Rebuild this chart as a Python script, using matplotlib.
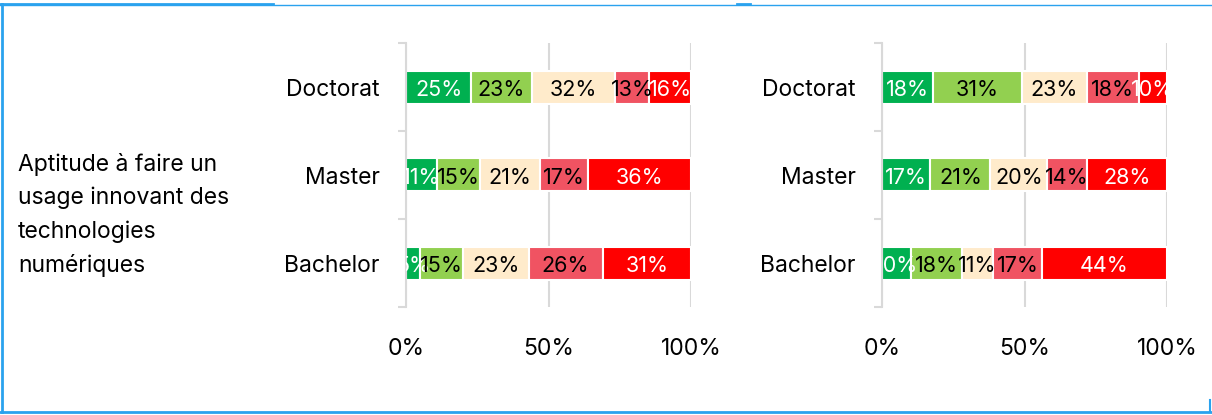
import numpy as np
import matplotlib.pyplot as plt
import matplotlib.transforms as mtransforms
from matplotlib.lines import Line2D

plt.rcParams['font.family'] = ['Inter', 'DejaVu Sans']

# Niveaux d'études (de bas en haut) et réponses pour chaque panneau
niveaux = ["Bachelor", "Master", "Doctorat"]
gauche = [
    [5, 15, 23, 26, 31],   # Bachelor
    [11, 15, 21, 17, 36],  # Master
    [25, 23, 32, 13, 16],  # Doctorat
]
droite = [
    [10, 18, 11, 17, 44],
    [17, 21, 20, 14, 28],
    [18, 31, 23, 18, 10],
]
couleurs = ["#00B050", "#92D050", "#FFEBCB", "#F05362", "#FF0000"]
couleurs_texte = ["white", "black", "black", "black", "white"]
ticks_x = [0, 50, 100]
titre = "Aptitude à faire un\nusage innovant des\ntechnologies\nnumériques"

W, H = 1212, 415
fig = plt.figure(figsize=(W / 100, H / 100), dpi=100)

GRIS = "#D9D9D9"
TAILLE = 16.5
TAILLE_BARRE = 15.5
# petit décalage vers le bas des pourcentages dans les barres
decale = mtransforms.ScaledTranslation(0, -3 / 100, fig.dpi_scale_trans)


def barres_empilees(ax, donnees):
    for i, ligne in enumerate(donnees):
        total = sum(ligne)
        parts = [100 * v / total for v in ligne]
        debuts = np.cumsum([0] + parts[:-1])
        ax.barh([i] * len(parts), parts, left=debuts, height=0.375,
                color=couleurs, edgecolor="white", linewidth=1.5, zorder=2)
    # textes par-dessus toutes les barres, coupés au bord du graphique
    for i, ligne in enumerate(donnees):
        total = sum(ligne)
        parts = [100 * v / total for v in ligne]
        debuts = np.cumsum([0] + parts[:-1])
        for v, p, d, c in zip(ligne, parts, debuts, couleurs_texte):
            ax.text(d + p / 2, i, f"{v}%", ha="center", va="center",
                    color=c, fontsize=TAILLE_BARRE, clip_on=True, zorder=3,
                    transform=ax.transData + decale)

    ax.set_xlim(0, 100)
    ax.set_ylim(-0.5, len(donnees) - 0.5)
    ax.set_xticks(ticks_x)
    ax.set_xticklabels([f"{t}%" for t in ticks_x], fontsize=TAILLE)
    ax.tick_params(axis="x", length=0, pad=22)
    ax.set_yticks(range(len(niveaux)))
    ax.set_yticklabels(niveaux, fontsize=TAILLE, va="center_baseline")
    ax.set_yticks(np.arange(-0.5, len(niveaux)), minor=True)
    ax.tick_params(axis="y", which="major", length=0, pad=19)
    ax.tick_params(axis="y", which="minor", length=5.5, width=1.5, color=GRIS)
    ax.xaxis.grid(True, color=GRIS, linewidth=1.5, zorder=0)
    ax.set_axisbelow(True)
    for s in ["top", "right", "bottom"]:
        ax.spines[s].set_visible(False)
    ax.spines["left"].set_color(GRIS)
    ax.spines["left"].set_linewidth(1.5)


bas = 1 - 307 / H
haut = 264 / H
ax1 = fig.add_axes([406 / W, bas, 285 / W, haut])
ax2 = fig.add_axes([882 / W, bas, 285 / W, haut])
barres_empilees(ax1, gauche)
barres_empilees(ax2, droite)

fig.text(18 / W, 1 - 215 / H, titre, ha="left", va="center",
         fontsize=TAILLE, linespacing=1.62)

# cadre bleu autour de la figure
BLEU = "#2AA2EE"
def trait(x0, y0, x1, y1, lw):
    fig.add_artist(Line2D([x0 / W, x1 / W], [1 - y0 / H, 1 - y1 / H],
                          color=BLEU, linewidth=lw, transform=fig.transFigure))

trait(0, 5, W, 5, 1)
trait(0, 4.5, 273, 4.5, 2)
trait(737, 4.5, 750, 4.5, 2)
trait(1.5, 4, 1.5, 412, 2)
trait(0, 411.5, W, 411.5, 2)
trait(1210, 400, 1210, 412, 1.5)

fig.savefig("out.png", dpi=100)
